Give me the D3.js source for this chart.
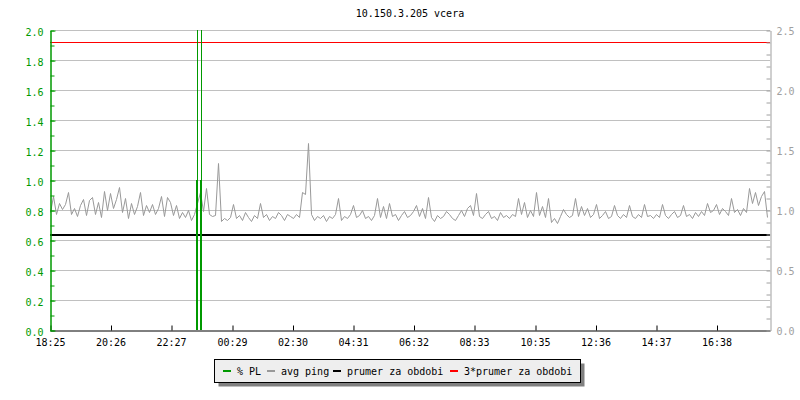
<!DOCTYPE html>
<html>
<head>
<meta charset="utf-8">
<script src="https://cdn.jsdelivr.net/npm/d3@7/dist/d3.min.js"></script>
<style>
  body { margin: 0; background: #fff; }
  svg text { font-family: "DejaVu Sans Mono", monospace; font-size: 10px; }
</style>
</head>
<body>
<svg id="chart" width="800" height="400"></svg>
<script>
// --- data ---
var title = "10.150.3.205 vcera";
var startTime = "18:25";
var tickLabels = ["18:25", "20:26", "22:27", "00:29", "02:30", "04:31", "06:32", "08:33", "10:35", "12:36", "14:37", "16:38"];
var pingStepMin = 6;
// avg ping (ms, right axis), one sample every 6 minutes from 18:25
var pingValues = [
  0.98, 1.12, 0.97, 1.06, 1.01, 1.05, 1.15, 0.97, 1.02, 0.95,
  1.04, 1.09, 0.96, 1.08, 1.11, 0.97, 1.07, 0.94, 1.16, 1.00,
  1.14, 1.02, 1.09, 1.19, 0.98, 1.10, 0.93, 1.06, 0.97, 1.03,
  1.15, 0.96, 1.04, 0.98, 1.05, 0.97, 1.02, 1.12, 0.95, 1.11,
  1.07, 0.96, 1.04, 0.93, 0.98, 0.94, 1.00, 0.92, 0.97, 1.06,
  1.15, 0.99, 1.18, 0.97, 0.95, 0.96, 1.39, 0.91, 0.93, 0.92,
  0.94, 1.05, 0.93, 0.96, 0.92, 0.98, 0.94, 0.91, 0.96, 0.93,
  1.06, 0.94, 0.97, 0.92, 0.95, 0.93, 0.98, 0.96, 0.92, 0.97,
  0.95, 0.93, 0.97, 0.94, 1.15, 1.13, 1.56, 0.97, 0.92, 0.95,
  0.93, 0.96, 0.91, 0.95, 0.93, 0.97, 1.10, 0.92, 0.95, 0.93,
  0.97, 1.04, 0.94, 0.96, 1.00, 0.93, 0.95, 0.92, 0.96, 1.10,
  0.94, 1.03, 0.93, 1.06, 0.95, 0.97, 0.92, 0.96, 0.99, 0.94,
  0.96, 0.99, 1.04, 0.95, 1.02, 0.93, 1.11, 0.94, 0.91, 0.96,
  0.93, 0.95, 0.99, 0.97, 0.93, 0.92, 0.96, 1.00, 0.95, 1.02,
  1.04, 0.96, 1.14, 0.95, 0.93, 0.97, 0.99, 0.93, 0.95, 0.92,
  0.98, 0.94, 0.96, 0.93, 0.97, 0.95, 1.10, 0.97, 1.07, 0.94,
  1.00, 0.95, 1.15, 0.96, 1.03, 0.94, 1.10, 0.90, 0.93, 0.89,
  0.95, 1.01, 0.97, 0.94, 0.96, 1.10, 0.95, 1.03, 0.96, 1.02,
  0.94, 0.97, 1.05, 0.93, 0.96, 0.99, 0.93, 0.95, 1.04, 0.96,
  0.93, 0.97, 0.94, 1.04, 0.95, 0.93, 0.97, 0.94, 1.05, 0.95,
  0.96, 0.93, 0.97, 0.94, 1.05, 0.96, 0.93, 0.97, 0.99, 0.94,
  0.96, 1.04, 0.95, 0.97, 0.93, 0.98, 0.95, 0.99, 0.96, 1.06,
  0.98, 1.00, 1.05, 0.97, 1.02, 0.99, 0.96, 1.10, 0.98, 1.01,
  0.96, 1.02, 0.98, 1.18, 1.06, 1.15, 1.04, 1.12, 1.16, 0.94
];
// packet loss (%), left axis
var plTimes = ["23:19", "23:26"];
var plAvg = [1.0, 1.0];
var plMax = [100, 100];
var prumer = 0.79;        // prumer za obdobi (ms)
var prumer3 = 2.40;       // 3*prumer za obdobi (ms)
var legendLabels = ["% PL", "avg ping", "prumer za obdobi", "3*prumer za obdobi"];
var legendColors = ["#009900", "#999999", "#000000", "#ff0000"];

// --- chart ---
var drawChart = function() {
  var svg = d3.select("#chart");
  var mLeft = 50, mRight = 770, mTop = 30, mBottom = 330;

  var day0 = new Date(2020, 0, 1);
  var hm = function(s) {
    var p = s.split(":"), d = new Date(day0);
    d.setHours(+p[0], +p[1]);
    return d;
  };
  var t0 = hm(startTime);
  var t1 = d3.timeDay.offset(t0, 1);
  var parseHM = function(s) {
    var d = hm(s);
    if (d < t0) d = d3.timeDay.offset(d, 1);
    return d;
  };

  var x = d3.scaleTime().domain([t0, t1]).range([mLeft, mRight]);
  var yL = d3.scaleLinear().domain([0, 2]).range([mBottom, mTop]).clamp(true);
  var yR = d3.scaleLinear().domain([0, 2.5]).range([mBottom, mTop]);

  svg.append("defs").append("clipPath").attr("id", "plot")
    .append("rect").attr("x", mLeft).attr("y", mTop)
    .attr("width", mRight - mLeft).attr("height", mBottom - mTop);

  // grid
  svg.append("g").selectAll("line")
    .data(d3.range(0.2, 2.01, 0.2))
    .enter().append("line")
    .attr("x1", mLeft + 5).attr("x2", mRight)
    .attr("y1", function(d) { return Math.round(yL(d)) + 0.5; })
    .attr("y2", function(d) { return Math.round(yL(d)) + 0.5; })
    .attr("stroke", "#c0c0c0");

  var plot = svg.append("g").attr("clip-path", "url(#plot)");

  // avg ping
  var pingData = pingValues.map(function(v, i) {
    return { t: d3.timeMinute.offset(t0, i * pingStepMin), v: v };
  });
  plot.append("path")
    .datum(pingData)
    .attr("fill", "none")
    .attr("stroke", "#999999")
    .attr("stroke-width", 1)
    .attr("d", d3.line()
      .x(function(d) { return Math.round(x(d.t)) + 0.5; })
      .y(function(d) { return Math.round(yR(d.v)) + 0.5; }));

  // prumer lines
  plot.append("line")
    .attr("x1", mLeft).attr("x2", mRight)
    .attr("y1", Math.round(yR(prumer))).attr("y2", Math.round(yR(prumer)))
    .attr("stroke", "#000").attr("stroke-width", 2);
  plot.append("line")
    .attr("x1", mLeft).attr("x2", mRight)
    .attr("y1", Math.round(yR(prumer3)) + 0.5).attr("y2", Math.round(yR(prumer3)) + 0.5)
    .attr("stroke", "#ff0000").attr("stroke-width", 1);

  // packet loss: thin bar = max, thick bar = avg
  var plData = plTimes.map(function(s, i) {
    return { t: parseHM(s), avg: plAvg[i], max: plMax[i] };
  });
  plot.append("g").selectAll("rect")
    .data(plData).enter().append("rect")
    .attr("x", function(d) { return Math.round(x(d.t)); })
    .attr("width", 1)
    .attr("y", function(d) { return yL(d.max); })
    .attr("height", function(d) { return yL(0) - yL(d.max); })
    .attr("fill", "#009900");
  plot.append("g").selectAll("rect")
    .data(plData).enter().append("rect")
    .attr("x", function(d) { return Math.round(x(d.t)) - 1; })
    .attr("width", 2)
    .attr("y", function(d) { return yL(d.avg); })
    .attr("height", function(d) { return yL(0) - yL(d.avg); })
    .attr("fill", "#009900");

  // x axis
  var xTicks = tickLabels.map(parseHM);
  var xAxis = svg.append("g")
    .attr("transform", "translate(0," + (mBottom + 0.5) + ")")
    .call(d3.axisBottom(x)
      .tickValues(xTicks)
      .tickSize(-5)
      .tickSizeOuter(0)
      .tickPadding(8)
      .tickFormat(d3.timeFormat("%H:%M")));
  xAxis.select(".domain").attr("stroke", "#000");
  xAxis.selectAll(".tick line").attr("stroke", "#000")
    .attr("transform", "translate(0.5,0)");
  xAxis.selectAll("text").attr("font-size", 11).attr("fill", "#000")
    .attr("font-family", "DejaVu Sans Mono");

  // left axis (green)
  var leftMinor = svg.append("g")
    .attr("transform", "translate(" + (mLeft + 0.5) + ",0.5)")
    .call(d3.axisLeft(yL).tickValues(d3.range(0, 2.01, 0.1))
      .tickSize(-4).tickSizeOuter(0).tickFormat(""));
  leftMinor.selectAll("line,path").attr("stroke", "#009900");
  var leftAxis = svg.append("g")
    .attr("transform", "translate(" + (mLeft + 0.5) + ",0.5)")
    .call(d3.axisLeft(yL).tickValues(d3.range(0, 2.01, 0.2))
      .tickSize(-5).tickSizeOuter(0).tickPadding(7)
      .tickFormat(d3.format(".1f")));
  leftAxis.selectAll("line,path").attr("stroke", "#009900");
  leftAxis.selectAll("text").attr("fill", "#009900").attr("font-size", 11)
    .attr("font-family", "DejaVu Sans Mono").attr("dy", "0.45em");

  // right axis (gray)
  var rightAxis = svg.append("g")
    .attr("transform", "translate(" + (mRight + 0.5) + ",0.5)")
    .call(d3.axisRight(yR).tickValues(d3.range(0, 2.51, 0.1))
      .tickSize(-4).tickSizeOuter(0).tickPadding(6)
      .tickFormat(function(d) {
        return Math.abs(d * 2 - Math.round(d * 2)) < 1e-6 ? d3.format(".1f")(d) : "";
      }));
  rightAxis.selectAll("line,path").attr("stroke", "#a0a0a0");
  rightAxis.selectAll("text").attr("fill", "#a0a0a0").attr("font-size", 10)
    .attr("font-family", "DejaVu Sans Mono").attr("dy", "0.4em");

  // title
  svg.append("text")
    .attr("x", (mLeft + mRight) / 2).attr("y", 17)
    .attr("text-anchor", "middle").attr("fill", "#000")
    .text(title);

  // legend
  var lg = svg.append("g");
  lg.append("rect").attr("x", 218.5).attr("y", 363.5).attr("width", 366).attr("height", 23)
    .attr("fill", "#808080");
  lg.append("rect").attr("x", 214.5).attr("y", 359.5).attr("width", 366).attr("height", 23)
    .attr("fill", "#eeeeee").attr("stroke", "#000");
  var legendX = [223, 267, 333, 450];
  var items = lg.selectAll("g.item").data(legendLabels).enter().append("g")
    .attr("transform", function(d, i) { return "translate(" + legendX[i] + ",0)"; });
  items.append("rect").attr("x", 0).attr("y", 370).attr("width", 8).attr("height", 2)
    .attr("fill", function(d, i) { return legendColors[i]; });
  items.append("text").attr("x", 14).attr("y", 374.5).attr("fill", "#000")
    .text(function(d) { return d; });
};

drawChart();
</script>
</body>
</html>
